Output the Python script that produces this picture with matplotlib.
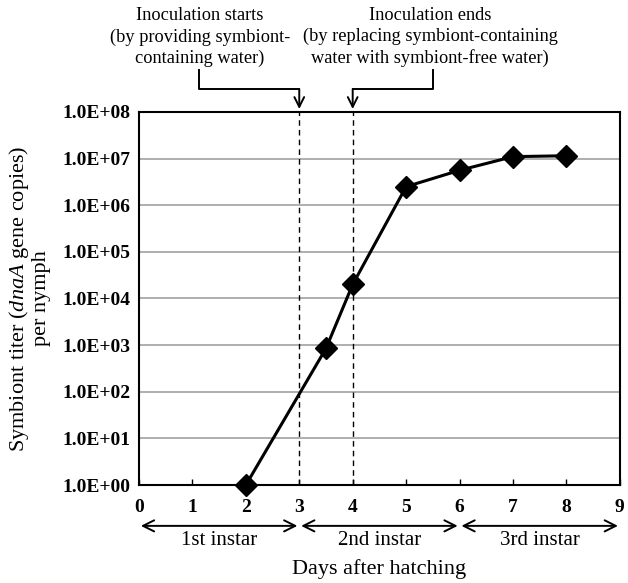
import numpy as np
import matplotlib
matplotlib.use("Agg")
import matplotlib.pyplot as plt
from matplotlib.ticker import FixedLocator, FuncFormatter

plt.rcParams['font.family'] = ['Liberation Serif', 'DejaVu Serif']
plt.rcParams['mathtext.fontset'] = 'custom'
plt.rcParams['mathtext.rm'] = 'Liberation Serif'
plt.rcParams['mathtext.it'] = 'Liberation Serif:italic'

# data
days = [2, 3.5, 4, 5, 6, 7, 8]
titer = [1.0, 850, 2.0e4, 2.5e6, 5.6e6, 1.1e7, 1.15e7]
y_exps = list(range(0, 9))
x_ticks = list(range(0, 10))
instars = ['1st instar', '2nd instar', '3rd instar']
instar_spans = [(0, 3), (3, 6), (6, 9)]
inoc_days = [3, 4]

fig = plt.figure(figsize=(6.28, 5.83), dpi=100)
ax = fig.add_axes([0.2213, 0.168, 0.7657, 0.640])

ax.set_yscale('log')
ax.set_ylim(1, 1e8)
ax.set_xlim(0, 9)
ax.yaxis.set_major_locator(FixedLocator([10.0**e for e in y_exps]))
ax.yaxis.set_minor_locator(FixedLocator([]))
ax.yaxis.set_major_formatter(FuncFormatter(lambda v, p: '1.0E+%02d' % int(round(np.log10(v)))))
ax.set_xticks(x_ticks)

for lab in ax.get_xticklabels() + ax.get_yticklabels():
    lab.set_fontweight('bold')
ax.tick_params(axis='y', length=0, labelsize=14, pad=6)
ax.tick_params(axis='x', direction='in', length=4, width=1, labelsize=14, pad=10)

ax.grid(axis='y', color='#a8a8a8', lw=1.3)
ax.set_axisbelow(True)
for s in ax.spines.values():
    s.set_linewidth(1.5)

for d in inoc_days:
    ax.axvline(d, color='black', lw=1, ls=(0, (4, 3)), zorder=2)

ax.plot(days, titer, color='black', lw=2.2, marker='D', ms=11, zorder=3, clip_on=False)

ax.set_ylabel('Symbiont titer ($\\mathit{dnaA}$ gene copies)\nper nymph', fontsize=16, labelpad=8,
              linespacing=1.1)

# instar arrows below the axis
def fx(v):
    return ax.transData.transform((v, 1))[0] / fig.bbox.width

for lab, (a, b) in zip(instars, instar_spans):
    x0 = fx(a) + 0.003
    x1 = fx(b) - 0.003
    fig.add_artist(plt.Annotation('', xy=(x0, 0.098), xytext=(x1, 0.098), xycoords='figure fraction',
                                  arrowprops=dict(arrowstyle='<->,head_length=0.8,head_width=0.4',
                                                  lw=1.4, color='black', shrinkA=0, shrinkB=0)))
    fig.text((fx(a) + fx(b)) / 2, 0.073, lab, ha='center', va='center', fontsize=15)

fig.text((fx(0) + fx(9)) / 2, 0.024, 'Days after hatching', ha='center', va='center', fontsize=16)

# inoculation annotations above
fig.text(200 / 628, 1 - 37 / 583, 'Inoculation starts\n(by providing symbiont-\ncontaining water)',
         ha='center', va='center', fontsize=13.2, linespacing=1.3)
fig.text(430 / 628, 1 - 37 / 583, 'Inoculation ends\n(by replacing symbiont-containing\nwater with symbiont-free water)',
         ha='center', va='center', fontsize=13.2, linespacing=1.3)

ybend = 1 - 89 / 583
ytop = 1 - 70 / 583
ytip = 1 - 109 / 583
for xs, d in [(199 / 628, 3), (433 / 628, 4)]:
    xd = fx(d)
    fig.add_artist(plt.Line2D([xs, xs, xd], [ytop, ybend, ybend], color='black', lw=1.4,
                              transform=fig.transFigure))
    fig.add_artist(plt.Annotation('', xy=(xd, ytip), xytext=(xd, ybend), xycoords='figure fraction',
                                  arrowprops=dict(arrowstyle='->,head_length=0.7,head_width=0.35',
                                                  lw=1.4, color='black', shrinkA=0, shrinkB=0)))

fig.savefig('out.png', dpi=100)
